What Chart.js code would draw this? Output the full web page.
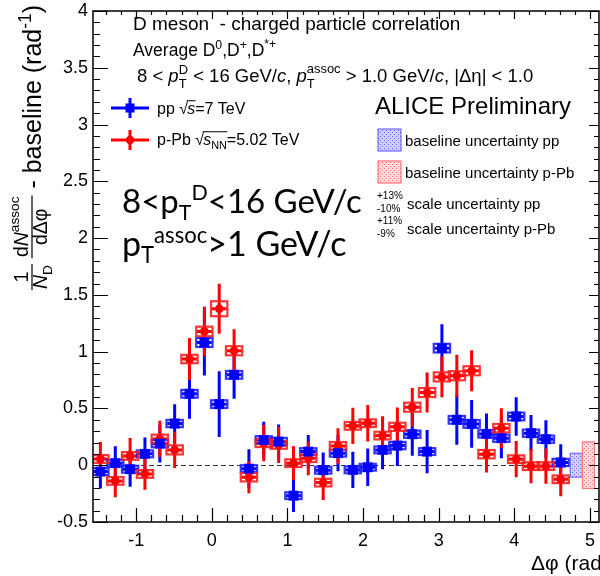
<!DOCTYPE html>
<html><head><meta charset="utf-8">
<script src="https://cdn.jsdelivr.net/npm/chart.js@4.4.1/dist/chart.umd.min.js"></script>
<style>html,body{margin:0;padding:0;background:#fff;}canvas{display:block;}</style>
</head><body>
<canvas id="c" width="600" height="576"></canvas>
<script>
const FONT = '"Liberation Sans", Arial, Helvetica, sans-serif';
const BIGFONT = 'Lato, "Open Sans", sans-serif';

// Δφ bin centres (rad), 32 bins of π/16 from -π/2 to 3π/2
const dphi = [-1.473,-1.276,-1.080,-0.884,-0.687,-0.491,-0.295,-0.098,
               0.098, 0.295, 0.491, 0.687, 0.884, 1.080, 1.276, 1.473,
               1.669, 1.865, 2.062, 2.258, 2.454, 2.651, 2.847, 3.043,
               3.240, 3.436, 3.632, 3.829, 4.025, 4.221, 4.418, 4.614];
const binHalfWidth = 0.098;

// pp, √s = 7 TeV
const ppValues = [-0.056, 0.018,-0.035, 0.100, 0.190, 0.367, 0.629, 1.081,
                   0.538, 0.796,-0.030, 0.223, 0.208,-0.268, 0.120,-0.044,
                   0.106,-0.041,-0.018, 0.135, 0.173, 0.273, 0.120, 1.031,
                   0.400, 0.364, 0.276, 0.238, 0.429, 0.282, 0.229, 0.024];
const ppStat   = [0.150,0.150,0.155,0.145,0.165,0.170,0.220,0.290,
                  0.290,0.210,0.170,0.160,0.150,0.145,0.147,0.155,
                  0.160,0.160,0.165,0.170,0.180,0.190,0.190,0.210,
                  0.220,0.210,0.180,0.177,0.170,0.160,0.168,0.160];
const ppSyst   = [0.030,0.030,0.030,0.030,0.032,0.032,0.034,0.040,
                  0.034,0.034,0.030,0.032,0.032,0.030,0.030,0.030,
                  0.030,0.030,0.030,0.030,0.032,0.032,0.030,0.038,
                  0.034,0.034,0.032,0.032,0.034,0.032,0.032,0.032];

// p-Pb, √sNN = 5.02 TeV
const pPbValues = [ 0.055,-0.138, 0.082,-0.077, 0.232, 0.135, 0.935, 1.178,
                    1.378, 1.008,-0.106, 0.194, 0.179, 0.018, 0.062,-0.153,
                    0.170, 0.347, 0.370, 0.261, 0.338, 0.511, 0.640, 0.778,
                    0.788, 0.832, 0.097, 0.326, 0.053,-0.008,-0.008,-0.124];
const pPbStat   = [0.150,0.145,0.157,0.140,0.160,0.160,0.185,0.220,
                   0.220,0.190,0.140,0.160,0.160,0.150,0.150,0.153,
                   0.156,0.160,0.160,0.170,0.170,0.170,0.176,0.180,
                   0.185,0.180,0.160,0.175,0.160,0.150,0.155,0.150];
const pPbSyst   = [0.034,0.034,0.034,0.034,0.037,0.040,0.037,0.042,
                   0.066,0.040,0.037,0.034,0.034,0.034,0.034,0.034,
                   0.034,0.034,0.034,0.034,0.036,0.040,0.040,0.040,
                   0.040,0.040,0.037,0.037,0.034,0.034,0.034,0.034];

// baseline uncertainty bands drawn beside the distribution
const baselineX = [4.82, 4.98];
const baselineUnc = [0.105, 0.205];
const baselineHalfWidth = 0.08;

const xTicks = [-1, 0, 1, 2, 3, 4, 5];
const yTicks = [-0.5, 0, 0.5, 1, 1.5, 2, 2.5, 3, 3.5, 4];

const BLUE = '#0000ff', RED = '#ff0000';

// ---------- rich text helpers (sub/superscripts, italics, roots) ----------
function richDraw(ctx, x, y, parts, size, family, draw) {
  family = family || FONT;
  let cx = x;
  for (const p of parts) {
    if (p.t !== undefined) {
      ctx.font = (p.it ? 'italic ' : '') + size + 'px ' + family;
      if (draw) ctx.fillText(p.t, cx, y);
      cx += ctx.measureText(p.t).width;
    } else if (p.root) {
      ctx.font = size + 'px ' + family;
      if (draw) ctx.fillText('\u221A', cx, y);
      cx += ctx.measureText('\u221A').width * 0.9;
      const start = cx;
      cx = richDraw(ctx, cx, y, p.root, size, family, draw);
      if (draw) ctx.fillRect(start - 0.5, y - size * 0.86, cx - start + 1, 1);
    } else {
      const ss = size * (p.scale || 0.7);
      ctx.font = ss + 'px ' + family;
      let w = 0;
      if (p.sup !== undefined) {
        if (draw) ctx.fillText(p.sup, cx, y - size * (p.supOff || 0.42));
        w = Math.max(w, ctx.measureText(p.sup).width);
      }
      if (p.sub !== undefined) {
        if (draw) ctx.fillText(p.sub, cx, y + size * (p.subOff || 0.22));
        w = Math.max(w, ctx.measureText(p.sub).width);
      }
      cx += w;
    }
  }
  return cx;
}
const rich = (ctx, x, y, parts, size, family) => richDraw(ctx, x, y, parts, size, family, true);
const richW = (ctx, parts, size, family) => richDraw(ctx, 0, 0, parts, size, family, false);

function frac(ctx, u, num, den, size, vNum, vDen, vLine) {
  const wn = richW(ctx, num, size), wd = richW(ctx, den, size);
  const w = Math.max(wn, wd) + 2;
  rich(ctx, u + (w - wn) / 2, vNum, num, size);
  rich(ctx, u + (w - wd) / 2, vDen, den, size);
  ctx.fillRect(u, vLine - 0.6, w, 1.2);
  return u + w;
}

function makePattern(ctx, bg, dot) {
  const c = document.createElement('canvas');
  c.width = 4; c.height = 4;
  const g = c.getContext('2d');
  g.fillStyle = bg; g.fillRect(0, 0, 4, 4);
  g.fillStyle = dot; g.fillRect(0, 0, 1, 1); g.fillRect(2, 2, 1, 1);
  return ctx.createPattern(c, 'repeat');
}

// ---------- plugin: error bars, boxes, frame, ticks, annotations ----------
const physicsPlugin = {
  id: 'physics',
  beforeDatasetsDraw(chart) {
    const { ctx, chartArea: a, scales: { x, y } } = chart;
    ctx.save();
    ctx.beginPath(); ctx.rect(a.left, a.top, a.right - a.left, a.bottom - a.top); ctx.clip();

    // zero line
    const y0px = Math.round(y.getPixelForValue(0)) + 0.5;
    ctx.strokeStyle = '#333'; ctx.lineWidth = 1; ctx.setLineDash([5, 3]);
    ctx.beginPath(); ctx.moveTo(a.left, y0px); ctx.lineTo(a.right, y0px); ctx.stroke();
    ctx.setLineDash([]);

    const series = [
      { v: ppValues, e: ppStat, s: ppSyst, c: BLUE, box: 'rgba(30,30,255,0.9)' },
      { v: pPbValues, e: pPbStat, s: pPbSyst, c: RED, box: 'rgba(255,30,30,0.9)' }
    ];
    // statistical error bars
    for (const sr of series) {
      ctx.strokeStyle = sr.c; ctx.lineWidth = 3; ctx.lineCap = 'butt';
      for (let i = 0; i < dphi.length; i++) {
        const px = x.getPixelForValue(dphi[i]);
        ctx.beginPath();
        ctx.moveTo(px, y.getPixelForValue(sr.v[i] - sr.e[i]));
        ctx.lineTo(px, y.getPixelForValue(sr.v[i] + sr.e[i]));
        ctx.moveTo(x.getPixelForValue(dphi[i] - binHalfWidth), y.getPixelForValue(sr.v[i]));
        ctx.lineTo(x.getPixelForValue(dphi[i] + binHalfWidth), y.getPixelForValue(sr.v[i]));
        ctx.stroke();
      }
    }
    // systematic boxes
    for (const sr of series) {
      ctx.strokeStyle = sr.box; ctx.lineWidth = 2.2;
      for (let i = 0; i < dphi.length; i++) {
        const x0 = x.getPixelForValue(dphi[i] - binHalfWidth - 0.01), x1 = x.getPixelForValue(dphi[i] + binHalfWidth + 0.01);
        const y0 = y.getPixelForValue(sr.v[i] + sr.s[i]), y1 = y.getPixelForValue(sr.v[i] - sr.s[i]);
        ctx.strokeRect(x0, y0, x1 - x0, y1 - y0);
      }
    }
    // baseline uncertainty bands
    const fills = [makePattern(ctx, '#d0d0ff', '#6060ff'), makePattern(ctx, '#ffdada', '#ff7070')];
    const edges = ['#7070ff', '#ff7878'];
    for (let k = 0; k < baselineX.length; k++) {
      const x0 = x.getPixelForValue(baselineX[k] - baselineHalfWidth);
      const x1 = x.getPixelForValue(baselineX[k] + baselineHalfWidth);
      const y0 = y.getPixelForValue(baselineUnc[k]), y1 = y.getPixelForValue(-baselineUnc[k]);
      ctx.fillStyle = fills[k]; ctx.fillRect(x0, y0, x1 - x0, y1 - y0);
      ctx.strokeStyle = edges[k]; ctx.lineWidth = 1.2; ctx.strokeRect(x0, y0, x1 - x0, y1 - y0);
    }
    ctx.restore();
  },
  afterDatasetsDraw(chart) {
    const { ctx, chartArea: a, scales: { x, y } } = chart;
    ctx.save();
    // frame
    ctx.strokeStyle = '#000'; ctx.lineWidth = 1.5;
    ctx.strokeRect(a.left, a.top, a.right - a.left, a.bottom - a.top);
    // ticks
    ctx.lineWidth = 1.2;
    ctx.beginPath();
    for (let v = -1.4; v <= 5.1; v += 0.2) {
      const major = Math.abs(v - Math.round(v)) < 1e-6;
      const px = Math.round(x.getPixelForValue(v)) + 0.5;
      ctx.moveTo(px, a.bottom); ctx.lineTo(px, a.bottom - (major ? 14 : 7));
      ctx.moveTo(px, a.top); ctx.lineTo(px, a.top + (major ? 8 : 4));
    }
    for (let v = -0.5; v <= 4.0001; v += 0.1) {
      const major = Math.abs(v * 2 - Math.round(v * 2)) < 1e-6;
      const py = Math.round(y.getPixelForValue(v)) + 0.5;
      ctx.moveTo(a.left, py); ctx.lineTo(a.left + (major ? 15 : 7), py);
      ctx.moveTo(a.right, py); ctx.lineTo(a.right - (major ? 10 : 5), py);
    }
    ctx.stroke();

    ctx.fillStyle = '#000';
    ctx.textBaseline = 'alphabetic'; ctx.textAlign = 'left';

    // axis title (x)
    ctx.font = '21px ' + FONT;
    ctx.fillText('\u0394\u03C6 (rad)', 531, 570);

    // axis title (y), rotated
    ctx.save();
    ctx.translate(0, 291); ctx.rotate(-Math.PI / 2);
    let u = 1;
    u = frac(ctx, u, [{ t: '1' }], [{ t: 'N', it: true }, { sub: 'D', subOff: 0.25 }], 19.5, 28, 47, 32);
    u += 6;
    u = frac(ctx, u, [{ t: 'd' }, { t: 'N', it: true }, { sup: 'assoc', supOff: 0.45 }],
                     [{ t: 'd\u0394\u03C6' }], 19.5, 28, 47, 32);
    rich(ctx, u, 41, [{ t: ' - baseline (rad' }, { sup: '-1', supOff: 0.4 }, { t: ')' }], 25);
    ctx.restore();

    // header text
    ctx.font = '19px ' + FONT;
    ctx.fillText('D meson  - charged particle correlation', 133, 30);
    rich(ctx, 133, 56, [{ t: 'Average D' }, { sup: '0', supOff: 0.4 }, { t: ',D' }, { sup: '+', supOff: 0.4 },
                        { t: ',D' }, { sup: '*+', supOff: 0.45 }], 17.5);
    rich(ctx, 137, 82, [{ t: '8 < ' }, { t: 'p', it: true }, { sub: 'T', sup: 'D', subOff: 0.3, supOff: 0.45 },
                        { t: ' < 16 GeV/' }, { t: 'c', it: true }, { t: ', ' }, { t: 'p', it: true },
                        { sub: 'T', sup: 'assoc', subOff: 0.3, supOff: 0.5 }, { t: ' > 1.0 GeV/' }, { t: 'c', it: true },
                        { t: ', |\u0394\u03B7| < 1.0' }], 18.5);

    // legend: markers
    const leg = [{ yy: 108, c: BLUE, sq: true }, { yy: 140, c: RED, sq: false }];
    for (const l of leg) {
      ctx.strokeStyle = l.c; ctx.fillStyle = l.c; ctx.lineWidth = 3;
      ctx.beginPath(); ctx.moveTo(111, l.yy); ctx.lineTo(149, l.yy);
      ctx.moveTo(130, l.yy - 10); ctx.lineTo(130, l.yy + 10); ctx.stroke();
      ctx.beginPath();
      if (l.sq) ctx.rect(125.5, l.yy - 4.5, 9, 9); else ctx.arc(130, l.yy, 4.3, 0, Math.PI * 2);
      ctx.fill();
    }
    ctx.fillStyle = '#000';
    rich(ctx, 157, 114, [{ t: 'pp ' }, { root: [{ t: 's', it: true }] }, { t: '=7 TeV' }], 16);
    rich(ctx, 157, 145, [{ t: 'p-Pb ' }, { root: [{ t: 's', it: true }, { sub: 'NN', subOff: 0.28, scale: 0.68 }] },
                         { t: '=5.02 TeV' }], 16);

    ctx.font = '24px ' + FONT;
    ctx.fillText('ALICE Preliminary', 375, 114);

    // uncertainty legend
    const fills = [makePattern(ctx, '#d0d0ff', '#6060ff'), makePattern(ctx, '#ffdada', '#ff7070')];
    const edges = ['#7070ff', '#ff7878'];
    const boxY = [129, 161];
    for (let k = 0; k < 2; k++) {
      ctx.fillStyle = fills[k]; ctx.fillRect(378, boxY[k], 23, 22);
      ctx.strokeStyle = edges[k]; ctx.lineWidth = 1.2; ctx.strokeRect(378, boxY[k], 23, 22);
    }
    ctx.fillStyle = '#000';
    ctx.font = '15px ' + FONT;
    ctx.fillText('baseline uncertainty pp', 405, 146);
    ctx.fillText('baseline uncertainty p-Pb', 405, 178);
    ctx.fillText('scale uncertainty pp', 407, 209);
    ctx.fillText('scale uncertainty p-Pb', 407, 234);
    ctx.font = '10px ' + FONT;
    ctx.fillText('+13%', 377, 199);
    ctx.fillText('-10%', 377, 212);
    ctx.fillText('+11%', 377, 224);
    ctx.fillText('-9%', 377, 237);

    // kinematic range
    rich(ctx, 122, 213, [{ t: '8<p' }, { sub: 'T', subOff: 0.22, scale: 0.65 }, { sup: 'D', supOff: 0.38, scale: 0.65 },
                         { t: '<16 GeV/c' }], 33, BIGFONT);
    rich(ctx, 122, 256, [{ t: 'p' }, { sub: 'T', subOff: 0.22, scale: 0.65 }, { sup: 'assoc', supOff: 0.38, scale: 0.65 },
                         { t: '>1 GeV/c' }], 34, BIGFONT);
    ctx.restore();
  }
};

const chart = new Chart(document.getElementById('c'), {
  type: 'scatter',
  data: {
    datasets: [
      { label: 'pp', data: dphi.map((v, i) => ({ x: v, y: ppValues[i] })),
        pointStyle: 'rect', pointRadius: 7, backgroundColor: BLUE, borderWidth: 0 },
      { label: 'p-Pb', data: dphi.map((v, i) => ({ x: v, y: pPbValues[i] })),
        pointStyle: 'circle', pointRadius: 4.4, backgroundColor: RED, borderWidth: 0 }
    ]
  },
  options: {
    responsive: false, animation: false, devicePixelRatio: 1,
    layout: { autoPadding: false, padding: { top: 11, right: 1, left: 0, bottom: 0 } },
    plugins: { legend: { display: false }, tooltip: { enabled: false } },
    scales: {
      x: {
        type: 'linear', min: -1.5708, max: 5.12,
        afterBuildTicks: s => { s.ticks = xTicks.map(v => ({ value: v })); },
        afterFit: s => { s.height = 54; s.paddingLeft = 0; s.paddingRight = 0; },
        grid: { display: false, drawTicks: true, tickLength: 8 }, border: { display: false },
        ticks: { color: '#000', font: { family: FONT, size: 18 }, padding: 0, maxRotation: 0, autoSkip: false,
                 callback: v => String(v) }
      },
      y: {
        type: 'linear', min: -0.5, max: 4,
        afterBuildTicks: s => { s.ticks = yTicks.map(v => ({ value: v })); },
        afterFit: s => { s.width = 93; s.paddingTop = 0; s.paddingBottom = 0; },
        grid: { display: false, drawTicks: true, tickLength: 5 }, border: { display: false },
        ticks: { color: '#000', font: { family: FONT, size: 18 }, padding: 0, autoSkip: false,
                 callback: v => String(v) }
      }
    }
  },
  plugins: [physicsPlugin]
});
</script>
</body></html>
